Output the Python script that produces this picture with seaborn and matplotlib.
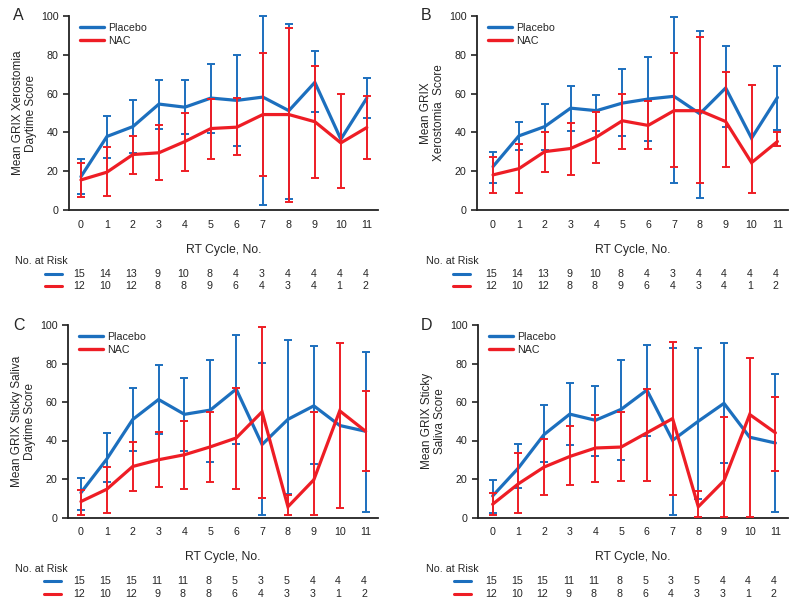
import matplotlib
matplotlib.use("Agg")
import numpy as np
import pandas as pd
import seaborn as sns
import matplotlib.pyplot as plt
from matplotlib.transforms import blended_transform_factory
from matplotlib.lines import Line2D

nan = np.nan
cycles = list(range(12))
tick_labels = [str(c) for c in cycles]

# Panel A – GRIX Xerostomia daytime
pl_A_mean = [17.2, 37.9, 43.0, 54.6, 53.0, 57.7, 56.5, 58.2, 51.2, 65.8, 36.5, 57.7]
pl_A_hi = [26.2, 48.6, 56.8, 67.0, 67.0, 75.5, 80.1, 100.0, 96.0, 81.8, nan, 68.0]
pl_A_lo = [8.3, 26.9, 29.3, 42.0, 39.1, 39.6, 33.1, 2.6, 5.8, 50.3, nan, 47.2]
nac_A_mean = [15.5, 19.5, 28.6, 29.5, 35.3, 42.0, 42.7, 49.2, 49.2, 45.5, 34.6, 42.5]
nac_A_hi = [24.1, 32.6, 38.4, 43.8, 50.0, 57.4, 57.6, 81.0, 93.7, 74.4, 59.8, 58.9]
nac_A_lo = [6.6, 7.2, 18.6, 15.5, 20.3, 26.5, 28.1, 17.7, 4.1, 16.5, 11.2, 26.5]

# Panel B – GRIX Xerostomia
pl_B_mean = [22.4, 38.2, 43.0, 52.5, 51.2, 55.1, 57.2, 58.6, 49.6, 62.9, 37.0, 58.0]
pl_B_hi = [30.1, 45.6, 54.6, 64.1, 59.5, 72.7, 78.7, 99.4, 92.5, 84.4, nan, 74.4]
pl_B_lo = [14.1, 31.0, 31.0, 40.5, 40.5, 37.9, 35.7, 14.0, 6.0, 42.7, nan, 41.3]
nac_B_mean = [18.1, 21.3, 30.1, 31.7, 37.6, 46.0, 43.6, 51.2, 51.2, 45.6, 24.4, 35.3]
nac_B_hi = [27.5, 34.1, 40.2, 45.1, 50.3, 60.0, 56.0, 81.0, 89.0, 71.2, 64.6, 40.0]
nac_B_lo = [8.6, 9.0, 19.5, 17.9, 24.4, 31.7, 31.7, 22.4, 14.0, 22.4, 9.0, 33.2]

# Panel C – GRIX Sticky Saliva daytime
pl_C_mean = [12.9, 30.4, 50.9, 61.3, 53.6, 55.8, 66.7, 37.9, 51.0, 58.0, 47.8, 44.8]
pl_C_hi = [20.6, 44.0, 67.4, 79.1, 72.7, 81.7, 94.8, 80.5, 92.4, 89.1, nan, 86.0]
pl_C_lo = [3.9, 18.2, 34.7, 43.4, 34.7, 28.8, 38.4, 1.3, 12.3, 27.9, nan, 3.0]
nac_C_mean = [8.3, 14.7, 26.5, 30.0, 32.6, 36.7, 41.3, 54.9, 5.6, 19.6, 55.4, 44.8]
nac_C_hi = [14.4, 26.2, 39.3, 44.6, 50.0, 54.9, 67.4, 99.0, 11.7, 54.6, 90.4, 65.8]
nac_C_lo = [1.3, 2.5, 13.8, 15.6, 14.9, 18.2, 14.9, 10.0, 1.3, 1.3, 4.8, 23.9]

# Panel D – GRIX Sticky Saliva
pl_D_mean = [11.2, 25.7, 43.1, 53.7, 50.5, 56.2, 66.2, 40.1, 50.0, 59.3, 41.7, 38.7]
pl_D_hi = [19.6, 38.0, 58.4, 70.0, 68.4, 82.0, 89.8, 88.1, 88.1, 90.7, nan, 74.3]
pl_D_lo = [2.2, 15.2, 28.6, 37.5, 31.7, 30.0, 42.2, 1.3, 9.5, 28.3, nan, 2.7]
nac_D_mean = [6.9, 17.5, 26.2, 31.7, 36.1, 36.6, 44.0, 51.4, 5.6, 19.1, 53.5, 44.0]
nac_D_hi = [12.6, 33.5, 41.0, 47.4, 53.0, 54.7, 67.0, 91.2, 13.8, 52.0, 82.9, 62.4]
nac_D_lo = [1.3, 2.5, 11.7, 17.0, 18.7, 19.1, 19.1, 11.7, 0.5, 0.5, 0.5, 24.3]

# Numbers at risk
risk_pl_AB = [15, 14, 13, 9, 10, 8, 4, 3, 4, 4, 4, 4]
risk_nac_AB = [12, 10, 12, 8, 8, 9, 6, 4, 3, 4, 1, 2]
risk_pl_CD = [15, 15, 15, 11, 11, 8, 5, 3, 5, 4, 4, 4]
risk_nac_CD = [12, 10, 12, 9, 8, 8, 6, 4, 3, 3, 1, 2]

ylabels = {
    "A": "Mean GRIX Xerostomia\nDaytime Score",
    "B": "Mean GRIX\nXerostomia  Score",
    "C": "Mean GRIX Sticky Saliva\nDaytime Score",
    "D": "Mean GRIX Sticky\nSaliva Score",
}
groups = ["Placebo", "NAC"]
xlabel = "RT Cycle, No."
risk_title = "No. at Risk"

BLUE = "#1c6fbe"
RED = "#ee1d25"
W, H = 800, 608

sns.set_style("ticks")
plt.rcParams["font.family"] = ["Liberation Sans", "DejaVu Sans"]

fig = plt.figure(figsize=(W / 100, H / 100), dpi=100)

# pixel boxes (left, right, top, bottom), x-limits, letter position
panels = [
    ("A", (69, 378, 16, 210), (-0.46, 11.43), (13, 15),
     (pl_A_mean, pl_A_hi, pl_A_lo, nac_A_mean, nac_A_hi, nac_A_lo), risk_pl_AB, risk_nac_AB, 15),
    ("B", (477, 788, 16, 210), (-0.62, 11.41), (421, 15),
     (pl_B_mean, pl_B_hi, pl_B_lo, nac_B_mean, nac_B_hi, nac_B_lo), risk_pl_AB, risk_nac_AB, 426),
    ("C", (68, 378, 325, 517.5), (-0.50, 11.48), (13, 325),
     (pl_C_mean, pl_C_hi, pl_C_lo, nac_C_mean, nac_C_hi, nac_C_lo), risk_pl_CD, risk_nac_CD, 15),
    ("D", (478, 788, 325, 517.5), (-0.57, 11.49), (421, 325),
     (pl_D_mean, pl_D_hi, pl_D_lo, nac_D_mean, nac_D_hi, nac_D_lo), risk_pl_CD, risk_nac_CD, 426),
]

FS_TICK = 7.7
FS_LAB = 8.5

for letter, (l, r, t, b), xlim, (lx, ly), series, rpl, rnac, risk_x in panels:
    ax = fig.add_axes([l / W, 1 - b / H, (r - l) / W, (b - t) / H])
    wpx, hpx = r - l, b - t
    pm, ph, plo, nm, nh, nlo = [np.array(s, dtype=float) for s in series]

    df = pd.DataFrame({
        "cycle": cycles * 2,
        "mean": list(pm) + list(nm),
        "group": ["Placebo"] * 12 + ["NAC"] * 12,
    })
    sns.lineplot(data=df, x="cycle", y="mean", hue="group", hue_order=groups,
                 palette={"Placebo": BLUE, "NAC": RED}, linewidth=2.3,
                 legend=False, ax=ax, errorbar=None)
    for ln, z in zip(ax.lines, [3, 5]):
        ln.set_zorder(z)
        ln.set_clip_on(False)
        ln.set_solid_joinstyle("miter")

    for mean, hi, lo, col, z in [(pm, ph, plo, BLUE, 2), (nm, nh, nlo, RED, 4)]:
        eb = ax.errorbar(cycles, mean, yerr=[mean - lo, hi - mean], fmt="none",
                         ecolor=col, elinewidth=1.4, capsize=3.0, capthick=1.4,
                         zorder=z)
        for art in eb.lines[1] + eb.lines[2]:
            art.set_clip_on(False)

    ax.set_xlim(*xlim)
    ax.set_ylim(0, 100)
    ax.set_xticks(cycles)
    ax.set_xticklabels(tick_labels)
    ax.set_yticks([0, 20, 40, 60, 80, 100])
    ax.tick_params(axis="y", length=4, width=1.2, labelsize=FS_TICK, pad=3.5,
                   colors="#222222")
    ax.tick_params(axis="x", length=0, labelsize=FS_TICK, pad=7, colors="#222222")
    sns.despine(ax=ax)
    for s in ["left", "bottom"]:
        ax.spines[s].set_linewidth(1.3)
        ax.spines[s].set_color("#222222")
    ax.set_xlabel(xlabel, fontsize=8.8, labelpad=10)
    ax.set_ylabel(ylabels[letter], fontsize=FS_LAB, linespacing=1.05, labelpad=3)

    handles = [Line2D([], [], color=BLUE, lw=2.4), Line2D([], [], color=RED, lw=2.4)]
    ax.legend(handles, groups, loc="upper left",
              bbox_to_anchor=(11 / wpx, 1 - 7 / hpx), frameon=False,
              fontsize=FS_TICK, handlelength=2.2, handletextpad=0.4,
              labelspacing=0.25, borderpad=0, borderaxespad=0)

    fig.text(lx / W, 1 - ly / H, letter, fontsize=11.5, ha="left", va="center")

    # number-at-risk table
    trans = blended_transform_factory(ax.transData, ax.transAxes)
    y_title = -51.5 / hpx
    y_pl = -63.8 / hpx
    y_nac = -76.3 / hpx
    ax.text((risk_x - l) / wpx, y_title, risk_title, transform=ax.transAxes,
            fontsize=FS_TICK, ha="left", va="center")
    for yy, vals, col in [(y_pl, rpl, BLUE), (y_nac, rnac, RED)]:
        ax.add_line(Line2D([-24 / wpx, -7 / wpx], [yy, yy], transform=ax.transAxes,
                           color=col, lw=2.2, clip_on=False))
        for c, v in zip(cycles, vals):
            ax.text(c - 0.06, yy, str(v), transform=trans, fontsize=FS_TICK,
                    ha="center", va="center")

fig.savefig("out.png", dpi=100)
